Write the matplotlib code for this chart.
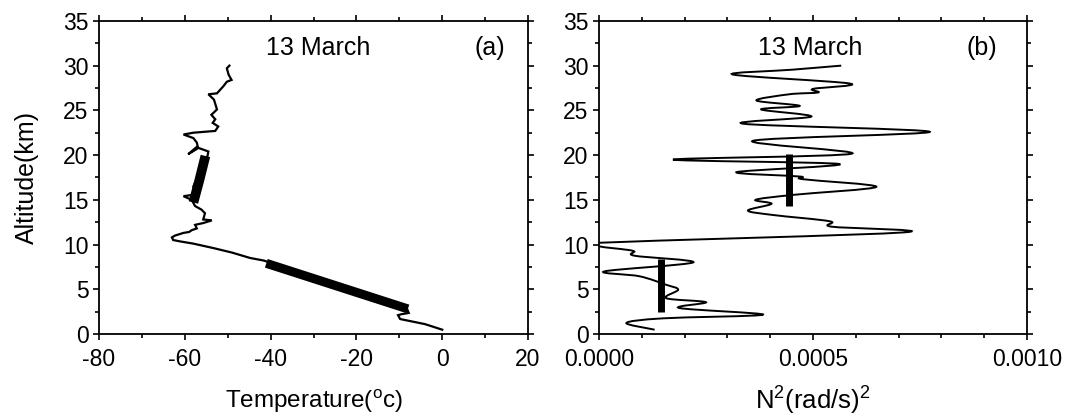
import numpy as np
import matplotlib
matplotlib.use("Agg")
import matplotlib.pyplot as plt
from matplotlib.path import Path
from matplotlib.patches import PathPatch
from matplotlib.ticker import MultipleLocator, FormatStrFormatter

plt.rcParams['font.family'] = ['Liberation Sans', 'DejaVu Sans']
plt.rcParams['mathtext.fontset'] = 'custom'
plt.rcParams['mathtext.rm'] = 'Liberation Sans'
plt.rcParams['mathtext.it'] = 'Liberation Sans:italic'
plt.rcParams['axes.unicode_minus'] = False

# ---- Panel (a): temperature profile, 13 March ----
temp_c = [0.0, -4.0, -9.8, -10.3, -9.6, -7.8, -8.2, -20.0, -30.0, -41.5, -44.8,
          -49.0, -53.3, -58.0, -61.1, -62.7, -63.0, -62.3, -60.3, -59.0, -58.4,
          -57.2, -57.6, -55.7, -53.7, -55.7, -55.3, -56.1, -57.6, -58.4, -60.3,
          -57.6, -58.0, -57.0, -56.0, -55.0, -54.5, -56.8, -59.2, -57.0, -57.2,
          -58.0, -60.3, -58.0, -52.9, -52.2, -53.5, -52.9, -53.8, -52.5, -53.2,
          -54.5, -52.5, -51.0, -50.2, -49.1, -49.8, -50.2, -49.6]
temp_alt = [0.48, 1.10, 1.67, 2.10, 2.20, 2.35, 2.80, 4.40, 6.20, 8.20, 8.50,
            9.10, 9.60, 10.10, 10.35, 10.50, 10.80, 11.00, 11.30, 11.40, 11.60,
            11.80, 12.20, 12.40, 12.70, 12.80, 13.50, 13.90, 14.30, 15.00, 15.40,
            15.60, 16.50, 17.50, 18.40, 19.20, 20.40, 20.80, 20.10, 21.00, 21.40,
            21.90, 22.30, 22.50, 22.70, 23.20, 23.60, 24.00, 24.50, 25.10, 26.20,
            26.80, 26.90, 27.70, 28.20, 28.40, 29.00, 29.70, 30.00]

# highlighted layers on the temperature profile
temp_layer1_c = [-8.0, -41.0]
temp_layer1_alt = [2.8, 7.9]
temp_layer2_c = [-58.0, -56.6, -55.2]
temp_layer2_alt = [14.7, 17.2, 19.9]

# ---- Panel (b): squared Brunt-Vaisala frequency, 13 March ----
n2 = [0.000130, 0.000064, 0.000150, 0.000383, 0.000188, 0.000250, 0.000157,
      0.000185, 0.000157, 0.000095, 0.000013, 0.000220, 0.000083, 0.000079,
      0.000000, 0.000002, 0.000710, 0.000543, 0.000539, 0.000407, 0.000348,
      0.000403, 0.000366, 0.000453, 0.000648, 0.000477, 0.000470, 0.000322,
      0.000562, 0.000173, 0.000590, 0.000360, 0.000773, 0.000338, 0.000496,
      0.000379, 0.000469, 0.000368, 0.000445, 0.000512, 0.000500, 0.000586,
      0.000313, 0.000453, 0.000566]
n2_alt = [0.48, 1.23, 1.75, 2.16, 2.90, 3.55, 4.00, 4.95, 5.50, 6.45, 7.00,
          8.00, 8.75, 9.30, 9.80, 10.20, 11.35, 12.00, 12.60, 13.30, 13.80,
          14.55, 15.00, 15.55, 16.45, 17.30, 17.60, 18.10, 19.00, 19.50, 20.15,
          21.60, 22.60, 23.50, 24.30, 25.10, 25.50, 26.10, 26.80, 27.00, 27.40,
          28.00, 29.00, 29.55, 30.00]

# mean N^2 over the two layers
n2_layer_value = [0.000144, 0.000444]
n2_layer_bottom = [2.5, 14.3]
n2_layer_top = [8.4, 20.1]


def smooth_path(xs, ys):
    """Catmull-Rom curve through the points, as cubic Bezier segments."""
    pts = np.column_stack([xs, ys]).astype(float)
    verts = [pts[0]]
    codes = [Path.MOVETO]
    n = len(pts)
    for i in range(n - 1):
        p0 = pts[i - 1] if i > 0 else pts[i]
        p1 = pts[i]
        p2 = pts[i + 1]
        p3 = pts[i + 2] if i + 2 < n else pts[i + 1]
        c1 = p1 + (p2 - p0) / 6.0
        c2 = p2 - (p3 - p1) / 6.0
        verts += [c1, c2, p2]
        codes += [Path.CURVE4] * 3
    return Path(verts, codes)


def style_axes(ax):
    ax.tick_params(which='both', direction='out', top=True, right=True,
                   labelsize=16.5, width=1.2)
    ax.tick_params(axis='x', which='both', pad=6)
    ax.tick_params(which='major', length=4)
    ax.tick_params(which='minor', length=3)
    ax.tick_params(axis='x', which='both', top=True, labeltop=False)
    ax.tick_params(axis='y', which='both', right=True, labelright=False)
    for s in ax.spines.values():
        s.set_linewidth(1.3)


fig = plt.figure(figsize=(10.70, 4.18), dpi=100)
ax1 = fig.add_axes([0.0925, 0.201, 0.401, 0.749])
ax2 = fig.add_axes([0.5598, 0.201, 0.400, 0.749])

# (a)
ax1.plot(temp_c, temp_alt, color='black', lw=1.6, solid_joinstyle='miter')
ax1.plot(temp_layer1_c, temp_layer1_alt, color='black', lw=6.5, solid_capstyle='butt')
ax1.plot(temp_layer2_c, temp_layer2_alt, color='black', lw=7, solid_capstyle='butt')
ax1.set_xlim(-80, 20)
ax1.set_ylim(0, 35)
ax1.xaxis.set_major_locator(MultipleLocator(20))
ax1.xaxis.set_minor_locator(MultipleLocator(10))
ax1.yaxis.set_major_locator(MultipleLocator(5))
ax1.yaxis.set_minor_locator(MultipleLocator(2.5))
style_axes(ax1)
ax1.set_xlabel('Temperature($^{\\rm o}$c)', fontsize=17.5, labelpad=12)
ax1.set_ylabel('Altitude(km)', fontsize=18, labelpad=17)
ax1.text(-29, 32.0, '13 March', fontsize=18, ha='center', va='center')
ax1.text(11.2, 32.0, '(a)', fontsize=18, ha='center', va='center')

# (b)
ax2.add_patch(PathPatch(smooth_path(n2, n2_alt), fill=False, edgecolor='black',
                        lw=1.4, transform=ax2.transData))
ax2.vlines(n2_layer_value, n2_layer_bottom, n2_layer_top, colors='black', lw=5)
ax2.set_xlim(0, 0.001)
ax2.set_ylim(0, 35)
ax2.xaxis.set_major_locator(MultipleLocator(0.0005))
ax2.xaxis.set_minor_locator(MultipleLocator(0.0001))
ax2.xaxis.set_major_formatter(FormatStrFormatter('%.4f'))
ax2.yaxis.set_major_locator(MultipleLocator(5))
ax2.yaxis.set_minor_locator(MultipleLocator(2.5))
style_axes(ax2)
ax2.set_xlabel('N$^2$(rad/s)$^2$', fontsize=18.5, labelpad=10)
ax2.text(0.000493, 32.0, '13 March', fontsize=18, ha='center', va='center')
ax2.text(0.000895, 32.0, '(b)', fontsize=18, ha='center', va='center')

fig.savefig('out.png', dpi=100)
